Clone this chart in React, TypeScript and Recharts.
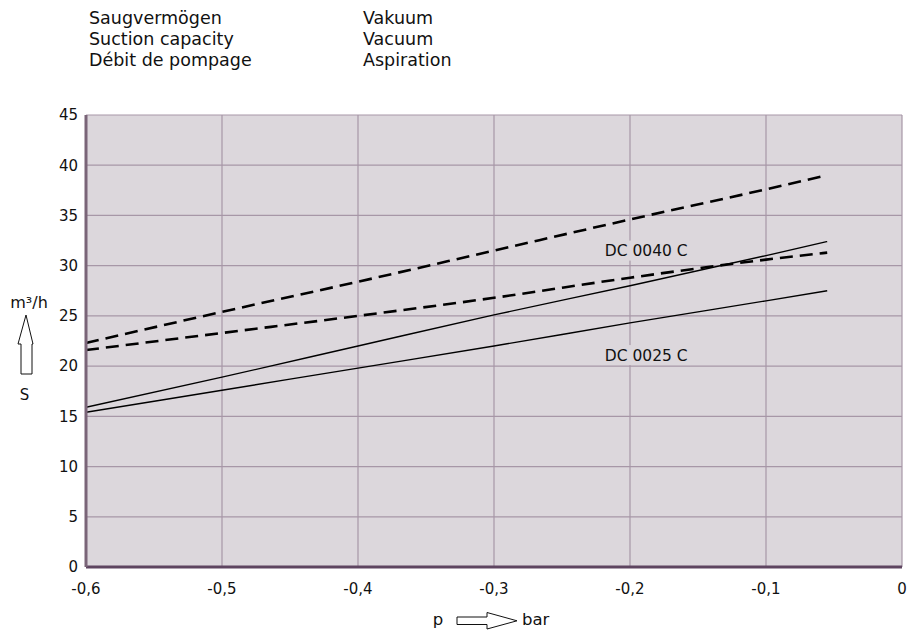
import { LineChart, Line, XAxis, YAxis, CartesianGrid, ReferenceDot } from 'recharts';

// pressure p [bar]
const pressure = [-0.6, -0.5, -0.4, -0.3, -0.2, -0.1, -0.055];

// suction capacity S [m³/h]
const dc0040Upper = [22.3, 25.4, 28.4, 31.5, 34.6, 37.6, 39.0];
const dc0040Lower = [21.6, 23.3, 25.0, 26.8, 28.8, 30.6, 31.3];
const dc0025Upper = [15.9, 18.9, 22.0, 25.1, 28.0, 31.0, 32.4];
const dc0025Lower = [15.4, 17.6, 19.8, 22.0, 24.3, 26.5, 27.5];

const xTicks = [-0.6, -0.5, -0.4, -0.3, -0.2, -0.1, 0];
const yTicks = [0, 5, 10, 15, 20, 25, 30, 35, 40, 45];

const curveLabels = [
  { text: 'DC 0040 C', p: -0.22, s: 31.5 },
  { text: 'DC 0025 C', p: -0.22, s: 21.1 },
];

const FONT = '"DejaVu Sans", "Open Sans", sans-serif';
const PLOT_BG = '#dcd7dc';
const GRID = '#a797a7';
const FRAME = '#5e4560';

const toSeries = (values: number[]) => pressure.map((p, i) => ({ p, s: values[i] }));

const fmtX = (v: number) => (v === 0 ? '0' : v.toFixed(1).replace('.', ','));

function CurveLabel(props: any) {
  const { cx, cy, text } = props;
  return (
    <g>
      <rect x={cx - 2} y={cy - 10} width={90} height={20} fill={PLOT_BG} />
      <text x={cx + 2} y={cy + 5.5} fontSize={15.5} fontFamily={FONT} fill="#111">
        {text}
      </text>
    </g>
  );
}

export default function App() {
  return (
    <div style={{ position: 'absolute', left: 0, top: 0, width: 909, height: 632, background: '#fff', fontFamily: FONT }}>
      {/* header */}
      <div style={{ position: 'absolute', left: 89, top: 7.5, fontSize: 17.5, lineHeight: '21px', color: '#111' }}>
        <div>Saugvermögen</div>
        <div>Suction capacity</div>
        <div>Débit de pompage</div>
      </div>
      <div style={{ position: 'absolute', left: 363, top: 7.5, fontSize: 17.5, lineHeight: '21px', color: '#111' }}>
        <div>Vakuum</div>
        <div>Vacuum</div>
        <div>Aspiration</div>
      </div>

      <LineChart width={909} height={632} margin={{ top: 115, right: 7, bottom: 35, left: 26 }}>
        <CartesianGrid stroke={GRID} fill={PLOT_BG} fillOpacity={1} strokeWidth={1.2} />
        <XAxis
          type="number"
          dataKey="p"
          domain={[-0.6, 0]}
          ticks={xTicks}
          tickFormatter={fmtX}
          allowDataOverflow
          height={30}
          tickLine={false}
          tickSize={6}
          tickMargin={10}
          axisLine={{ stroke: FRAME, strokeWidth: 3 }}
          tick={{ fill: '#111', fontSize: 15, fontFamily: FONT }}
        />
        <XAxis xAxisId="top" orientation="top" type="number" domain={[-0.6, 0]} height={0} tick={false} tickLine={false} axisLine={{ stroke: FRAME, strokeWidth: 2.5 }} />
        <YAxis
          type="number"
          domain={[0, 45]}
          ticks={yTicks}
          width={60}
          tickLine={false}
          tickSize={6}
          tickMargin={2}
          axisLine={{ stroke: '#7a6578', strokeWidth: 3 }}
          tick={{ fill: '#111', fontSize: 15, fontFamily: FONT }}
        />
        <YAxis yAxisId="right" orientation="right" domain={[0, 45]} width={0} tick={false} tickLine={false} axisLine={{ stroke: FRAME, strokeWidth: 2.5 }} />

        <Line data={toSeries(dc0040Upper)} dataKey="s" type="monotone" stroke="#000" strokeWidth={2.6} strokeDasharray="13 7" dot={false} isAnimationActive={false} />
        <Line data={toSeries(dc0040Lower)} dataKey="s" type="monotone" stroke="#000" strokeWidth={2.6} strokeDasharray="13 7" dot={false} isAnimationActive={false} />
        <Line data={toSeries(dc0025Upper)} dataKey="s" type="monotone" stroke="#000" strokeWidth={1.4} dot={false} isAnimationActive={false} />
        <Line data={toSeries(dc0025Lower)} dataKey="s" type="monotone" stroke="#000" strokeWidth={1.4} dot={false} isAnimationActive={false} />

        {curveLabels.map((l) => (
          <ReferenceDot
            key={l.text}
            x={l.p}
            y={l.s}
            r={0}
            ifOverflow="visible"
            shape={(props: any) => <CurveLabel {...props} text={l.text} />}
          />
        ))}
      </LineChart>

      {/* axis names with outline arrows */}
      <svg width={909} height={632} style={{ position: 'absolute', left: 0, top: 0, pointerEvents: 'none' }}>
        <text x={29} y={308} fontSize={16} fontFamily={FONT} textAnchor="middle" fill="#111">m³/h</text>
        <polygon points="26,315 33,344 32,344 32,374 21,374 21,344 18,344" fill="#fff" stroke="#111" strokeWidth={1} />
        <text x={24.5} y={400} fontSize={15} fontFamily={FONT} textAnchor="middle" fill="#111">S</text>

        <text x={438} y={625} fontSize={16.5} fontFamily={FONT} textAnchor="middle" fill="#111">p</text>
        <polygon points="457,617 487,617 487,612.5 517,620.8 487,629 487,624.5 457,624.5" fill="#fff" stroke="#111" strokeWidth={1} />
        <text x={522} y={625} fontSize={16.5} fontFamily={FONT} fill="#111">bar</text>
      </svg>
    </div>
  );
}
